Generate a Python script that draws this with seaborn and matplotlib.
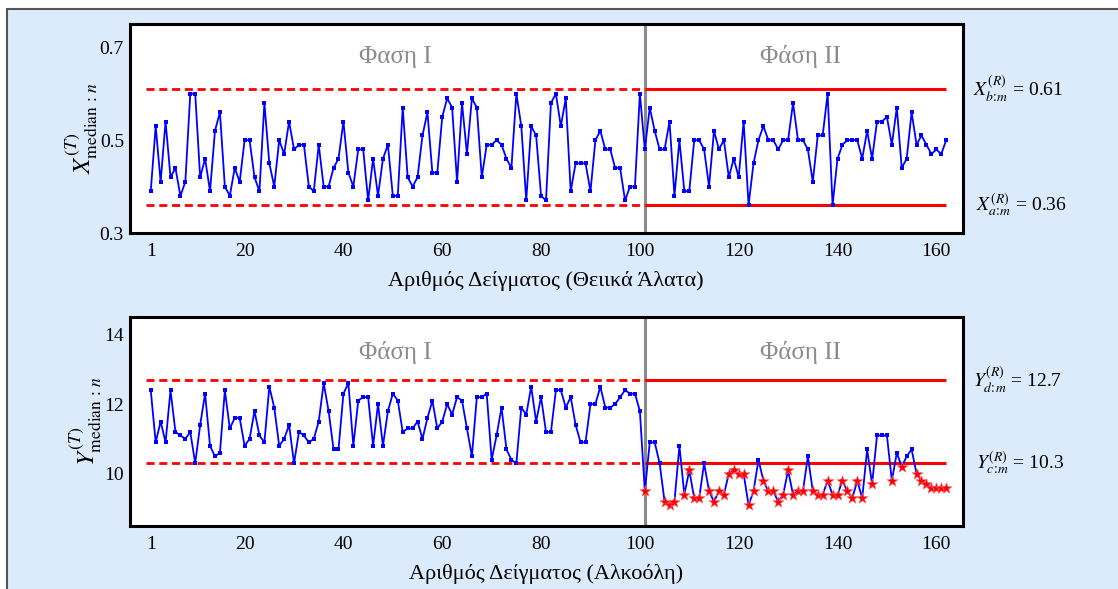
import numpy as np
import pandas as pd
import matplotlib
matplotlib.use("Agg")
import matplotlib.pyplot as plt
import matplotlib.transforms as mtransforms
from matplotlib.patches import Rectangle
import seaborn as sns

# ---------------- data ----------------
sample = list(range(1, 163))

x_median = [
    0.39, 0.53, 0.41, 0.54, 0.42, 0.44, 0.38, 0.41, 0.60, 0.60,
    0.42, 0.46, 0.39, 0.52, 0.56, 0.40, 0.38, 0.44, 0.41, 0.50,
    0.50, 0.42, 0.39, 0.58, 0.45, 0.40, 0.50, 0.47, 0.54, 0.48,
    0.49, 0.49, 0.40, 0.39, 0.49, 0.40, 0.40, 0.44, 0.46, 0.54,
    0.43, 0.40, 0.48, 0.48, 0.37, 0.46, 0.38, 0.46, 0.49, 0.38,
    0.38, 0.57, 0.42, 0.40, 0.42, 0.51, 0.56, 0.43, 0.43, 0.55,
    0.59, 0.57, 0.41, 0.58, 0.47, 0.59, 0.57, 0.42, 0.49, 0.49,
    0.50, 0.49, 0.46, 0.44, 0.60, 0.53, 0.37, 0.53, 0.51, 0.38,
    0.37, 0.58, 0.60, 0.53, 0.59, 0.39, 0.45, 0.45, 0.45, 0.39,
    0.50, 0.52, 0.48, 0.48, 0.44, 0.44, 0.37, 0.40, 0.40, 0.60,
    0.48, 0.57, 0.52, 0.48, 0.48, 0.54, 0.38, 0.50, 0.39, 0.39,
    0.50, 0.50, 0.48, 0.40, 0.52, 0.48, 0.50, 0.42, 0.46, 0.42,
    0.54, 0.36, 0.45, 0.50, 0.53, 0.50, 0.50, 0.48, 0.50, 0.50,
    0.58, 0.50, 0.50, 0.48, 0.41, 0.51, 0.51, 0.60, 0.36, 0.46,
    0.49, 0.50, 0.50, 0.50, 0.46, 0.52, 0.46, 0.54, 0.54, 0.55,
    0.49, 0.57, 0.44, 0.46, 0.56, 0.49, 0.51, 0.49, 0.47, 0.48,
    0.47, 0.50,
]

y_median = [
    12.4, 10.9, 11.5, 10.9, 12.4, 11.2, 11.1, 11.0, 11.2, 10.3,
    11.4, 12.3, 10.8, 10.5, 10.6, 12.4, 11.3, 11.6, 11.6, 10.8,
    11.0, 11.8, 11.1, 10.9, 12.5, 11.9, 10.8, 11.0, 11.4, 10.3,
    11.2, 11.1, 10.9, 11.0, 11.5, 12.6, 11.8, 10.7, 10.7, 12.3,
    12.6, 10.8, 12.1, 12.2, 12.2, 10.8, 12.0, 10.8, 11.8, 12.3,
    12.1, 11.2, 11.3, 11.3, 11.5, 11.0, 11.6, 12.1, 11.3, 11.5,
    12.0, 11.7, 12.2, 12.1, 11.3, 10.5, 12.2, 12.2, 12.3, 10.4,
    11.1, 11.9, 10.7, 10.4, 10.3, 11.9, 11.7, 12.5, 11.5, 12.2,
    11.2, 11.2, 12.4, 12.4, 11.9, 12.2, 11.4, 10.9, 10.9, 12.0,
    12.0, 12.5, 11.9, 11.9, 12.0, 12.2, 12.4, 12.3, 12.3, 11.8,
    9.5, 10.9, 10.9, 10.3, 9.2, 9.1, 9.2, 10.8, 9.4, 10.1,
    9.3, 9.3, 10.3, 9.5, 9.2, 9.5, 9.4, 10.0, 10.1, 10.0,
    10.0, 9.1, 9.5, 10.4, 9.8, 9.5, 9.5, 9.2, 9.4, 10.1,
    9.4, 9.5, 9.5, 10.5, 9.5, 9.4, 9.4, 9.8, 9.4, 9.4,
    9.8, 9.5, 9.3, 9.8, 9.3, 10.7, 9.7, 11.1, 11.1, 11.1,
    9.8, 10.6, 10.2, 10.5, 10.7, 10.0, 9.8, 9.7, 9.6, 9.6,
    9.6, 9.6,
]

x_limits = [0.36, 0.61]      # a, b
y_limits = [10.3, 12.7]      # c, d
phase_split = 101
x_ticks = [1, 20, 40, 60, 80, 100, 120, 140, 160]

top_phase_labels = ["Φαση Ι", "Φάση ΙΙ"]
bottom_phase_labels = ["Φάση Ι", "Φάση ΙΙ"]
top_xlabel = "Αριθμός Δείγματος (Θειικά Άλατα)"
bottom_xlabel = "Αριθμός Δείγματος (Αλκοόλη)"
top_ylabel = r"$X^{(T)}_{\mathrm{median}\,:\,n}$"
bottom_ylabel = r"$Y^{(T)}_{\mathrm{median}\,:\,n}$"
top_right_labels = [r"$X^{(R)}_{b\!:\!m}$ = 0.61", r"$X^{(R)}_{a\!:\!m}$ = 0.36"]
bottom_right_labels = [r"$Y^{(R)}_{d\!:\!m}$ = 12.7", r"$Y^{(R)}_{c\!:\!m}$ = 10.3"]

df = pd.DataFrame({"sample": sample, "x": x_median, "y": y_median})

# ---------------- style ----------------
sns.set_style("white")
plt.rcParams["font.family"] = ["Liberation Serif", "DejaVu Serif"]
plt.rcParams["mathtext.fontset"] = "stix"
plt.rcParams["text.color"] = "black"
plt.rcParams["axes.labelcolor"] = "black"
plt.rcParams["xtick.color"] = "black"
plt.rcParams["ytick.color"] = "black"

W, H = 1118, 589
fig = plt.figure(figsize=(W / 100, H / 100), dpi=100, facecolor="white")
bg = Rectangle((7 / W, -0.05), 1.2, (H - 9) / H + 0.05,
               transform=fig.transFigure, facecolor="#dcebfc",
               edgecolor="#555555", linewidth=1.5, zorder=-10)
fig.patches.append(bg)

left, width = 129.5 / W, (963 - 129.5) / W
ax1 = fig.add_axes([left, 1 - 233 / H, width, 209 / H])
ax2 = fig.add_axes([left, 1 - 526 / H, width, 209 / H])
ax1.set_zorder(5)
ax2.set_zorder(5)

blue = "#0000ff"
red = "#ff0000"
gray = "#8a8a8a"


def draw(ax, col, lims, ylim, yticks, phase_labels, phase_y, xlabel, ylabel,
         right_labels, stars):
    n_last = df["sample"].iloc[-1]
    # limit lines
    for v in lims:
        ax.plot([0, phase_split], [v, v], color=red, lw=2.0,
                dashes=(2.9, 1.7), zorder=2)
        ax.plot([phase_split, n_last], [v, v], color=red, lw=2.2,
                solid_capstyle="butt", zorder=2)
    ax.axvline(phase_split, color=gray, lw=2.2, zorder=1)
    sns.lineplot(data=df, x="sample", y=col, ax=ax, color=blue, lw=1.3,
                 marker="s", markersize=3.4, markeredgewidth=0,
                 markerfacecolor=blue, zorder=3)
    if stars:
        sub = df[(df["sample"] >= phase_split) & (df[col] < lims[0])]
        sns.scatterplot(data=sub, x="sample", y=col, ax=ax, marker="*",
                        s=70, color=red, edgecolor="#ff6a6a", linewidth=0.4,
                        zorder=4)
    ax.set_xlim(-3.3, 165.4)
    ax.set_ylim(*ylim)
    ax.set_xticks(x_ticks)
    ax.set_yticks(yticks)
    ax.tick_params(length=0, labelsize=14, colors="black")
    ax.tick_params(axis="x", pad=7)
    ax.tick_params(axis="y", pad=4)
    ax.set_xlabel(xlabel, fontsize=16, labelpad=8, color="black")
    ax.set_ylabel(ylabel, fontsize=18, labelpad=0, color="black")
    for sp in ax.spines.values():
        sp.set_color("black")
        sp.set_linewidth(2.2)
    ax.set_facecolor("white")
    ax.text(50.5, phase_y, phase_labels[0], color=gray, fontsize=18,
            ha="center", va="center")
    ax.text(132.5, phase_y, phase_labels[1], color=gray, fontsize=18,
            ha="center", va="center")
    trans = mtransforms.blended_transform_factory(ax.transAxes, ax.transData)
    ax.text(1.012, lims[1], right_labels[0], transform=trans, fontsize=14,
            ha="left", va="center", color="black")
    ax.text(1.016, lims[0], right_labels[1], transform=trans, fontsize=14,
            ha="left", va="center", color="black")


draw(ax1, "x", x_limits, (0.3, 0.75), [0.3, 0.5, 0.7], top_phase_labels, 0.679,
     top_xlabel, top_ylabel, top_right_labels, stars=False)
draw(ax2, "y", y_limits, (8.5, 14.5), [10, 12, 14], bottom_phase_labels, 13.47,
     bottom_xlabel, bottom_ylabel, bottom_right_labels, stars=True)
ax1.set_yticklabels(["0.3", "0.5", "0.7"])

fig.savefig("out.png", dpi=100, facecolor="white")
